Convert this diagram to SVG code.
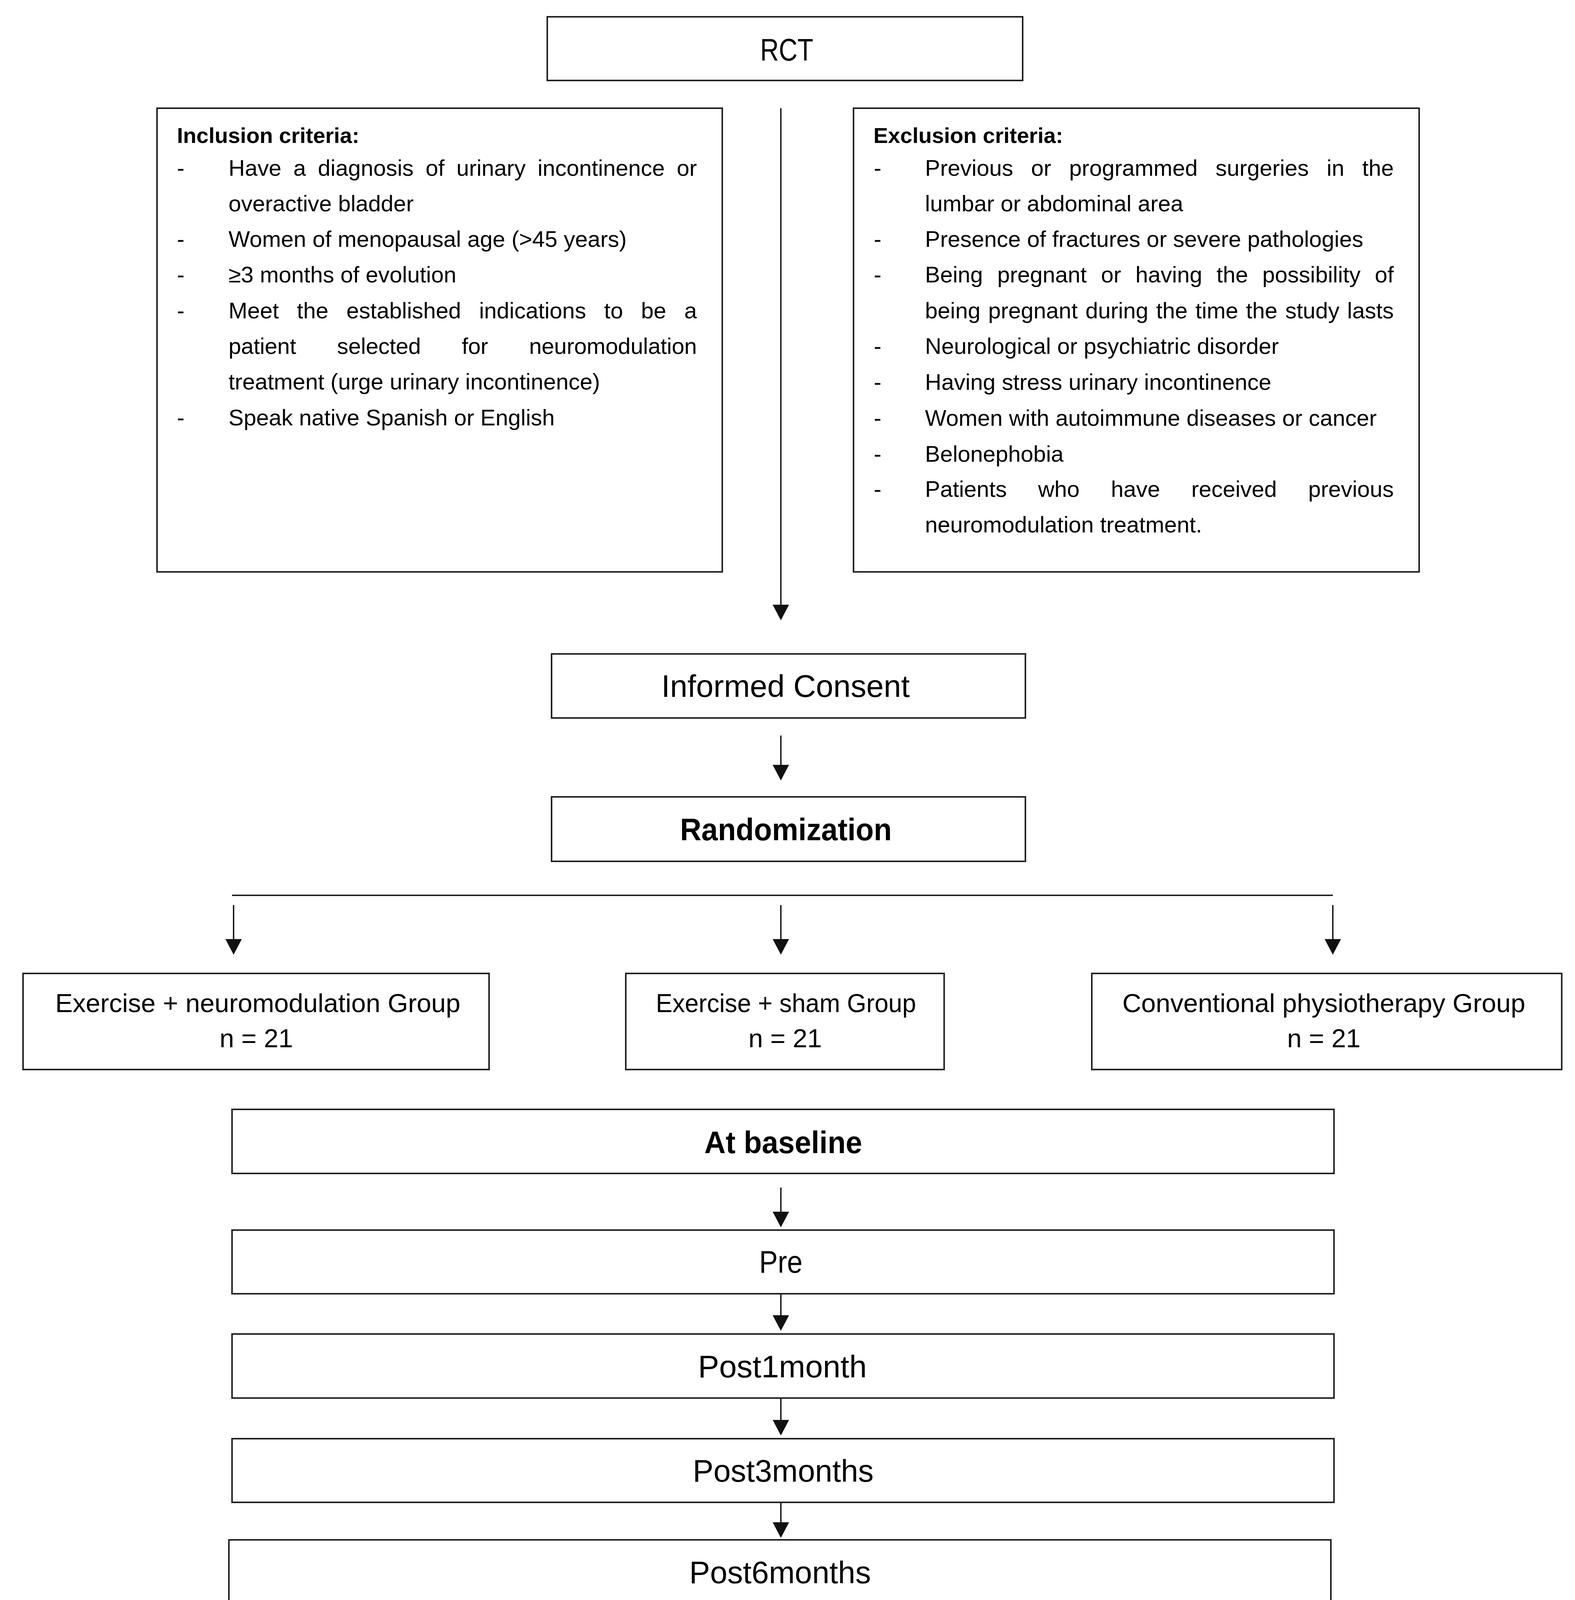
<svg xmlns="http://www.w3.org/2000/svg" width="4032" height="4412" viewBox="0 0 4032 4412">
<style>
  .box { fill: #ffffff; stroke: #222222; stroke-width: 4; }
  .t { font-family: "Liberation Sans", Arial, sans-serif; fill: #000000; }
  .title { font-size: 80px; text-anchor: middle; }
  .bold { font-weight: bold; }
  .grp { font-size: 67px; text-anchor: middle; }
  .body { font-size: 58px; }
  .head { font-size: 56px; font-weight: bold; }
  .conn { stroke: #111111; stroke-width: 3.5; fill: none; }
  .arrow { marker-end: url(#ah); }
</style>
<defs>
  <marker id="ah" markerUnits="userSpaceOnUse" markerWidth="42" markerHeight="44" refX="20" refY="21" orient="auto" viewBox="0 0 42 44">
    <path d="M0,0 L40,21 L0,42 Z" fill="#111111"/>
  </marker>
</defs>
<rect x="0" y="0" width="4032" height="4412" fill="#ffffff"/>

<g id="connectors">
  <path class="conn arrow" d="M1999,277 V1568"/>
  <path class="conn arrow" d="M1999,1883 V1978"/>
  <path class="conn" d="M594,2292 H3412"/>
  <path class="conn arrow" d="M598,2317 V2424"/>
  <path class="conn arrow" d="M1999,2317 V2424"/>
  <path class="conn arrow" d="M3412,2317 V2424"/>
  <path class="conn arrow" d="M1999,3040 V3122"/>
  <path class="conn arrow" d="M1999,3312 V3387"/>
  <path class="conn arrow" d="M1999,3579 V3655"/>
  <path class="conn arrow" d="M1999,3846 V3917"/>
  <path class="conn arrow" d="M1999,4106 V4185"/>
</g>

<g id="node-rct">
  <rect class="box" x="1401" y="43" width="1217" height="163"/>
  <text class="t title" x="2014" y="155" textLength="136" lengthAdjust="spacingAndGlyphs">RCT</text>
</g>

<g id="node-inclusion">
  <rect class="box" x="402" y="277" width="1447" height="1187"/>
  <text class="t head" x="453" y="366">Inclusion criteria:</text>
  <text class="t body" x="453" y="450">-</text>
  <text class="t body" x="585" y="450" word-spacing="14.5" textLength="1199" lengthAdjust="spacing">Have a diagnosis of urinary incontinence or</text>
  <text class="t body" x="585" y="541">overactive bladder</text>
  <text class="t body" x="453" y="632">-</text>
  <text class="t body" x="585" y="632">Women of menopausal age (&gt;45 years)</text>
  <text class="t body" x="453" y="723">-</text>
  <text class="t body" x="585" y="723">≥3 months of evolution</text>
  <text class="t body" x="453" y="815">-</text>
  <text class="t body" x="585" y="815" word-spacing="30" textLength="1199" lengthAdjust="spacing">Meet the established indications to be a</text>
  <text class="t body" x="585" y="906" word-spacing="89" textLength="1199" lengthAdjust="spacing">patient selected for neuromodulation</text>
  <text class="t body" x="585" y="997">treatment (urge urinary incontinence)</text>
  <text class="t body" x="453" y="1089">-</text>
  <text class="t body" x="585" y="1089">Speak native Spanish or English</text>
</g>

<g id="node-exclusion">
  <rect class="box" x="2185" y="277" width="1448" height="1187"/>
  <text class="t head" x="2236" y="366">Exclusion criteria:</text>
  <text class="t body" x="2237" y="450">-</text>
  <text class="t body" x="2368" y="450" word-spacing="29.8" textLength="1200" lengthAdjust="spacing">Previous or programmed surgeries in the</text>
  <text class="t body" x="2368" y="541">lumbar or abdominal area</text>
  <text class="t body" x="2237" y="632">-</text>
  <text class="t body" x="2368" y="632">Presence of fractures or severe pathologies</text>
  <text class="t body" x="2237" y="723">-</text>
  <text class="t body" x="2368" y="723" word-spacing="20.5" textLength="1200" lengthAdjust="spacing">Being pregnant or having the possibility of</text>
  <text class="t body" x="2368" y="815" word-spacing="3.8" textLength="1200" lengthAdjust="spacing">being pregnant during the time the study lasts</text>
  <text class="t body" x="2237" y="906">-</text>
  <text class="t body" x="2368" y="906">Neurological or psychiatric disorder</text>
  <text class="t body" x="2237" y="998">-</text>
  <text class="t body" x="2368" y="998">Having stress urinary incontinence</text>
  <text class="t body" x="2237" y="1090">-</text>
  <text class="t body" x="2368" y="1090">Women with autoimmune diseases or cancer</text>
  <text class="t body" x="2237" y="1182">-</text>
  <text class="t body" x="2368" y="1182">Belonephobia</text>
  <text class="t body" x="2237" y="1272">-</text>
  <text class="t body" x="2368" y="1272" word-spacing="64" textLength="1200" lengthAdjust="spacing">Patients who have received previous</text>
  <text class="t body" x="2368" y="1363">neuromodulation treatment.</text>
</g>

<g id="node-consent">
  <rect class="box" x="1412" y="1674" width="1213" height="164"/>
  <text class="t title" x="2011" y="1784">Informed Consent</text>
</g>

<g id="node-randomization">
  <rect class="box" x="1412" y="2040" width="1213" height="165"/>
  <text class="t title bold" x="2012" y="2151" textLength="542" lengthAdjust="spacingAndGlyphs">Randomization</text>
</g>

<g id="node-group1">
  <rect class="box" x="59" y="2492" width="1193" height="246"/>
  <text class="t grp" x="660" y="2591">Exercise + neuromodulation Group</text>
  <text class="t grp" x="656" y="2681">n = 21</text>
</g>

<g id="node-group2">
  <rect class="box" x="1602" y="2492" width="815" height="246"/>
  <text class="t grp" x="2012" y="2591" textLength="666" lengthAdjust="spacingAndGlyphs">Exercise + sham Group</text>
  <text class="t grp" x="2010" y="2681">n = 21</text>
</g>

<g id="node-group3">
  <rect class="box" x="2795" y="2492" width="1203" height="246"/>
  <text class="t grp" x="3389" y="2591">Conventional physiotherapy Group</text>
  <text class="t grp" x="3389" y="2681">n = 21</text>
</g>

<g id="node-baseline">
  <rect class="box" x="594" y="2840" width="2821" height="164"/>
  <text class="t title bold" x="2005" y="2952" textLength="404" lengthAdjust="spacingAndGlyphs">At baseline</text>
</g>

<g id="node-pre">
  <rect class="box" x="594" y="3149" width="2821" height="163"/>
  <text class="t title" x="1999" y="3258" textLength="111" lengthAdjust="spacingAndGlyphs">Pre</text>
</g>

<g id="node-post1">
  <rect class="box" x="594" y="3415" width="2821" height="164"/>
  <text class="t title" x="2003" y="3526" textLength="432" lengthAdjust="spacingAndGlyphs">Post1month</text>
</g>

<g id="node-post3">
  <rect class="box" x="594" y="3683" width="2821" height="163"/>
  <text class="t title" x="2005" y="3793" textLength="463" lengthAdjust="spacingAndGlyphs">Post3months</text>
</g>

<g id="node-post6">
  <rect class="box" x="586" y="3942" width="2821" height="164"/>
  <text class="t title" x="1997" y="4053" textLength="465" lengthAdjust="spacingAndGlyphs">Post6months</text>
</g>

<g id="node-analysis">
  <rect class="box" x="594" y="4212" width="2821" height="162"/>
  <text class="t title" x="1995" y="4321" textLength="766" lengthAdjust="spacingAndGlyphs">ANALYSIS OF RESULTS</text>
</g>
</svg>
